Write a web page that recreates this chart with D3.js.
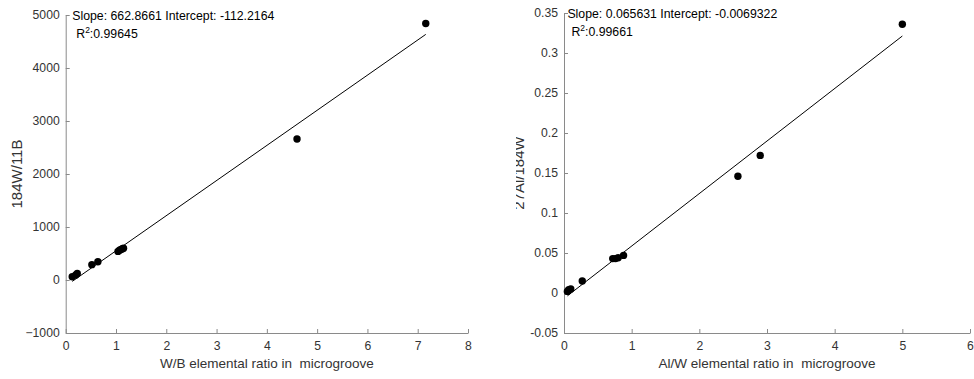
<!DOCTYPE html>
<html>
<head>
<meta charset="utf-8">
<script src="https://cdn.jsdelivr.net/npm/d3@7"></script>
<style>
  html, body { margin: 0; padding: 0; background: #fff; }
  svg { display: block; font-family: "Liberation Sans", Arial, sans-serif; }
  text { white-space: pre; }
</style>
</head>
<body>
<svg id="fig" width="974" height="379"></svg>
<script>
// Left panel: W/B ratio vs 184W/11B
const wbRatio   = [0.13, 0.2, 0.23, 0.52, 0.64, 1.04, 1.07, 1.1, 1.13, 1.15, 4.6, 7.16];
const wbSignal  = [60, 95, 125, 290, 345, 540, 560, 575, 590, 600, 2660, 4840];
const wbFit     = { slope: 662.8661, intercept: -112.2164, r2: "0.99645" };
const wbXTicks  = [0, 1, 2, 3, 4, 5, 6, 7, 8];
const wbYTicks  = [-1000, 0, 1000, 2000, 3000, 4000, 5000];

// Right panel: Al/W ratio vs 27Al/184W
const alwRatio  = [0.05, 0.07, 0.1, 0.27, 0.72, 0.76, 0.8, 0.88, 2.57, 2.9, 5.0];
const alwSignal = [0.002, 0.004, 0.005, 0.015, 0.043, 0.043, 0.044, 0.047, 0.146, 0.172, 0.336];
const alwFit    = { slope: 0.065631, intercept: -0.0069322, r2: "0.99661" };
const alwXTicks = [0, 1, 2, 3, 4, 5, 6];
const alwYTicks = [-0.05, 0, 0.05, 0.1, 0.15, 0.2, 0.25, 0.3, 0.35];

const svg = d3.select("#fig");
const axisColor = "#8a8a8a";
const textColor = "#333";

function panel(opts) {
  const x = d3.scaleLinear().domain(opts.xDomain).range([opts.left, opts.right]);
  const y = d3.scaleLinear().domain(opts.yDomain).range([opts.bottom, opts.top]);
  const g = svg.append("g");

  const xAxis = d3.axisBottom(x).tickValues(opts.xTicks).tickFormat(d3.format("d"))
    .tickSizeInner(-4).tickSizeOuter(0).tickPadding(8);
  const yAxis = d3.axisLeft(y).tickValues(opts.yTicks).tickFormat(opts.yFormat)
    .tickSizeInner(-4).tickSizeOuter(0).tickPadding(6);

  const gx = g.append("g").attr("transform", `translate(0,${opts.bottom})`).call(xAxis);
  const gy = g.append("g").attr("transform", `translate(${opts.left},0)`).call(yAxis);
  [gx, gy].forEach(a => {
    a.selectAll("path.domain, line").attr("stroke", axisColor).attr("stroke-width", 1);
    a.selectAll("text").attr("fill", textColor).style("font-size", "12.2px");
    a.attr("font-family", null);
  });

  // regression line across the sampled range
  const xs = d3.extent(opts.xs);
  g.append("line")
    .attr("x1", x(xs[0])).attr("y1", y(opts.fit.slope * xs[0] + opts.fit.intercept))
    .attr("x2", x(xs[1])).attr("y2", y(opts.fit.slope * xs[1] + opts.fit.intercept))
    .attr("stroke", "#000").attr("stroke-width", 1);

  // measured points
  g.selectAll("circle.pt").data(d3.zip(opts.xs, opts.ys)).join("circle")
    .attr("class", "pt")
    .attr("cx", d => x(d[0])).attr("cy", d => y(d[1]))
    .attr("r", 3.7).attr("fill", "#000");

  // fit annotation
  const ax = x(xs[0]);
  g.append("text").attr("x", ax).attr("y", y(opts.yDomain[1]) + 5)
    .attr("fill", "#000").style("font-size", "12.3px")
    .text(`Slope: ${opts.fit.slopeText} Intercept: ${opts.fit.interceptText}`);
  const r = g.append("text").attr("x", ax + 4).attr("y", y(opts.yDomain[1]) + 22.5)
    .attr("fill", "#000").style("font-size", "12.3px");
  r.append("tspan").text("R");
  r.append("tspan").attr("dy", -5).style("font-size", "8.5px").text("2");
  r.append("tspan").attr("dy", 5).text(":" + opts.fit.r2);

  // axis titles
  g.append("text").attr("x", (opts.left + opts.right) / 2).attr("y", opts.bottom + 35)
    .attr("text-anchor", "middle").attr("fill", textColor).style("font-size", "13.5px")
    .text(opts.xLabel);

  const ylg = g.append("g");
  ylg.append("text")
    .attr("transform", `translate(${opts.yLabelX},${(opts.top + opts.bottom) / 2}) rotate(-90)`)
    .attr("text-anchor", "middle").attr("fill", textColor).style("font-size", "15px")
    .text(opts.yLabel);
  if (opts.yLabelClip != null) {
    const id = "clip-" + opts.id;
    svg.append("clipPath").attr("id", id).append("rect")
      .attr("x", opts.yLabelClip).attr("y", 0).attr("width", 40).attr("height", 379);
    ylg.attr("clip-path", `url(#${id})`);
  }
}

panel({
  id: "wb",
  xs: wbRatio, ys: wbSignal,
  fit: Object.assign({ slopeText: "662.8661", interceptText: "-112.2164" }, wbFit),
  xDomain: [0, 8], yDomain: [-1000, 5000],
  xTicks: wbXTicks, yTicks: wbYTicks, yFormat: d3.format("d"),
  left: 65.7, right: 468, top: 15, bottom: 333,
  xLabel: "W/B elemental ratio in  microgroove",
  yLabel: "184W/11B", yLabelX: 22
});

panel({
  id: "alw",
  xs: alwRatio, ys: alwSignal,
  fit: Object.assign({ slopeText: "0.065631", interceptText: "-0.0069322" }, alwFit),
  xDomain: [0, 6], yDomain: [-0.05, 0.35],
  xTicks: alwXTicks, yTicks: alwYTicks, yFormat: d => String(+d.toFixed(2)),
  left: 564, right: 970, top: 13, bottom: 333,
  xLabel: "Al/W elemental ratio in  microgroove",
  yLabel: "27Al/184W", yLabelX: 524, yLabelClip: 516
});
</script>
</body>
</html>
